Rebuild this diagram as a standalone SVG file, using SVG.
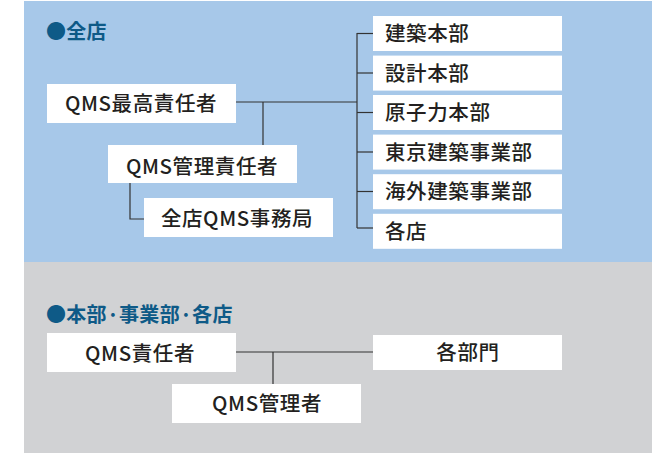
<svg xmlns="http://www.w3.org/2000/svg" width="659" height="453" viewBox="0 0 659 453">
<style>
.box{fill:#ffffff}
.t{font-family:"Noto Sans CJK JP","Noto Sans",sans-serif;font-size:20.5px;font-weight:500;letter-spacing:0.6px;fill:#231f20}
.c{text-anchor:middle}
.h{font-family:"Noto Sans CJK JP","Noto Sans",sans-serif;font-size:20px;font-weight:700;letter-spacing:0.3px;fill:#0e5a87}
.ln{stroke:#333333;stroke-width:1.2;fill:none}
</style>
<rect x="0" y="0" width="659" height="453" fill="#ffffff"/>
<rect x="24" y="1" width="628" height="261" fill="#a7c8e9"/>
<rect x="24" y="262" width="628" height="191" fill="#d1d2d4"/>
<text class="h" x="46" y="39">●全店</text>
<text class="h" x="46" y="322">●本部·事業部·各店</text>
<g id="connectors">
<polyline class="ln" points="236,102 357,102"/>
<line class="ln" x1="263" y1="102" x2="263" y2="145"/>
<polyline class="ln" points="130,183 130,219 144,219"/>
<line class="ln" x1="357" y1="33" x2="357" y2="228"/>
<line class="ln" x1="357" y1="33.5" x2="373" y2="33.5"/>
<line class="ln" x1="357" y1="73" x2="373" y2="73"/>
<line class="ln" x1="357" y1="112.5" x2="373" y2="112.5"/>
<line class="ln" x1="357" y1="152" x2="373" y2="152"/>
<line class="ln" x1="357" y1="191.5" x2="373" y2="191.5"/>
<line class="ln" x1="357" y1="228" x2="373" y2="228"/>
<line class="ln" x1="236" y1="352" x2="373" y2="352"/>
<line class="ln" x1="273" y1="352" x2="273" y2="384"/>
</g>
<g id="n-top"><rect class="box" x="47" y="84" width="189" height="39"/><text class="t c" x="141" y="111">QMS最高責任者</text></g>
<g id="n-qmsmgr"><rect class="box" x="108" y="145" width="189" height="38"/><text class="t c" x="202" y="174">QMS管理責任者</text></g>
<g id="n-office"><rect class="box" x="144" y="198" width="189" height="39"/><text class="t c" x="237" y="226">全店QMS事務局</text></g>
<g id="n-d1"><rect class="box" x="373" y="16" width="189" height="35"/><text class="t" x="385" y="41">建築本部</text></g>
<g id="n-d2"><rect class="box" x="373" y="55.6" width="189" height="35"/><text class="t" x="385" y="80.6">設計本部</text></g>
<g id="n-d3"><rect class="box" x="373" y="95" width="189" height="35"/><text class="t" x="385" y="120">原子力本部</text></g>
<g id="n-d4"><rect class="box" x="373" y="134.6" width="189" height="35"/><text class="t" x="385" y="159.6">東京建築事業部</text></g>
<g id="n-d5"><rect class="box" x="373" y="174.2" width="189" height="35"/><text class="t" x="385" y="199.2">海外建築事業部</text></g>
<g id="n-d6"><rect class="box" x="373" y="213.8" width="189" height="35"/><text class="t" x="385" y="238.8">各店</text></g>
<g id="n-resp"><rect class="box" x="47" y="333" width="189" height="39"/><text class="t c" x="140" y="361">QMS責任者</text></g>
<g id="n-mgr"><rect class="box" x="172" y="384" width="189" height="39"/><text class="t c" x="267" y="411">QMS管理者</text></g>
<g id="n-dept"><rect class="box" x="373" y="335" width="189" height="35"/><text class="t c" x="468" y="360">各部門</text></g>
</svg>
